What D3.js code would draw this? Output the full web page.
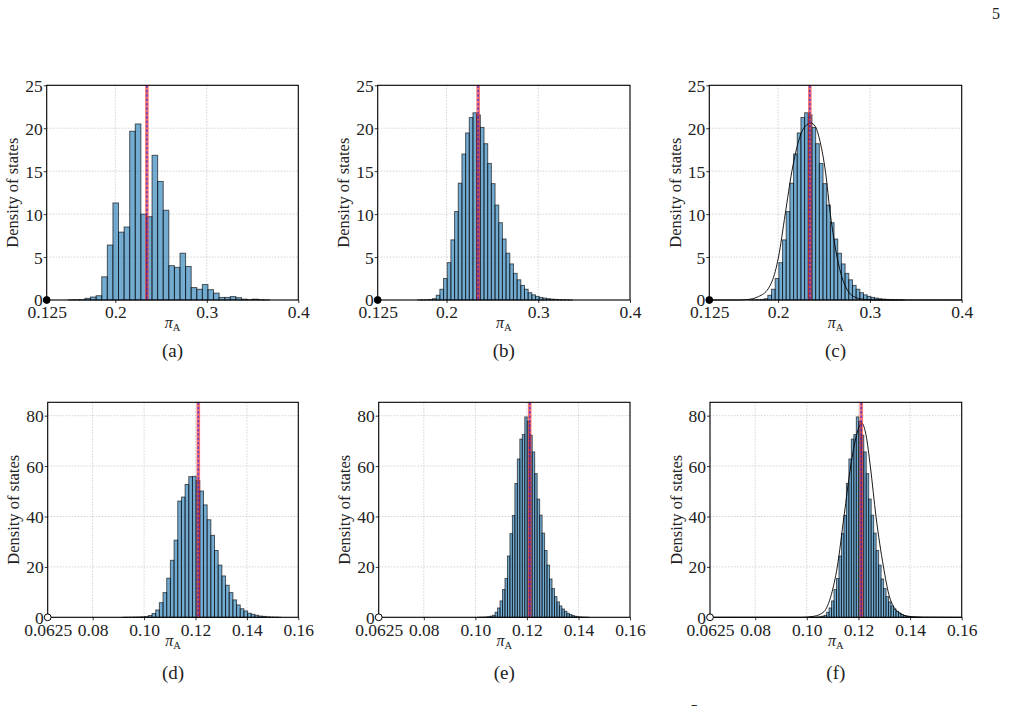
<!DOCTYPE html>
<head>
  <meta charset="utf-8">
  <style>
    body { margin: 0; background: #fff; }
    svg { display: block; font-family: "Liberation Serif", "Times New Roman", serif; }
  </style>
  <script src="https://cdn.jsdelivr.net/npm/d3@7"></script>
</head>
<body>
<svg id=fig width="1014" height="706"></svg>

<script>
// ---- data ----
// histograms: first bin edge, bin width, bar heights (density)
const histA_start = 0.1485, histA_width = 0.00611
const histA = [0.02, 0.03, 0.05, 0.2, 0.35, 0.5, 2.7, 6.4, 11.3, 7.9, 8.5, 19.65, 20.5, 10.0, 9.7,
  16.85, 13.8, 10.45, 4.0, 3.8, 5.45, 3.9, 1.45, 1.25, 1.8, 1.2, 0.8, 0.3, 0.3, 0.4, 0.27, 0.1,
  0.05, 0.1, 0.05, 0.02]

const histB_start = 0.1687, histB_width = 0.00401
const histB = [0.01, 0.02, 0.03, 0.06, 0.15, 0.55, 1.25, 2.5, 4.35, 7.0, 10.3, 13.6, 17.0, 19.45,
  21.25, 21.8, 21.55, 20.1, 18.2, 15.9, 13.55, 11.05, 9.0, 7.1, 5.45, 4.2, 3.1, 2.35, 1.7, 1.25,
  0.85, 0.6, 0.42, 0.3, 0.22, 0.15, 0.1, 0.07, 0.05, 0.03, 0.02, 0.01]

const histD_start = 0.09165, histD_width = 0.00143
const histD = [0.02, 0.03, 0.05, 0.08, 0.12, 0.2, 0.3, 0.7, 1.5, 2.9, 5.8, 9.8, 15.5, 22.6, 30.6,
  46.1, 47.7, 52.7, 55.8, 55.9, 54.2, 50.1, 44.6, 38.7, 32.5, 26.5, 20.7, 16.4, 12.7, 9.8, 6.9,
  4.9, 3.4, 2.5, 1.6, 1.2, 0.8, 0.5, 0.35, 0.2, 0.12, 0.06, 0.03]

const histE_start = 0.10094, histE_width = 0.00096
const histE = [0.02, 0.03, 0.06, 0.12, 0.25, 0.45, 0.8, 2.0, 3.7, 6.5, 11.0, 15.4, 24.3, 33.2, 40.4,
  53.1, 62.8, 70.7, 72.5, 79.5, 77.7, 72.2, 65.6, 57.0, 46.9, 40.5, 33.4, 26.5, 20.7, 15.2, 11.4,
  8.2, 6.1, 4.5, 3.3, 2.4, 1.6, 1.1, 0.7, 0.4, 0.25, 0.15, 0.08, 0.04, 0.02]

// fitted curves in (c) and (f)
const curveC_x = [0.125, 0.155, 0.166, 0.1786, 0.1895, 0.1968, 0.2004, 0.2077, 0.2150, 0.2210, 0.2278,
  0.2358, 0.2405, 0.2460, 0.2515, 0.2569, 0.2642, 0.2697, 0.2752, 0.2824, 0.2933, 0.3079, 0.4]
const curveC_y = [0, 0, 0.05, 0.4, 1.36, 3.3, 5.0, 10.0, 15.0, 18.0, 20.0,
  20.6, 20.2, 18.3, 15.0, 10.0, 5.0, 2.6, 1.2, 0.4, 0.08, 0, 0]

const curveF_x = [0.0625, 0.098, 0.1027, 0.1066, 0.1095, 0.1118, 0.1144, 0.1170, 0.1192, 0.12126,
  0.1230, 0.1246, 0.1268, 0.1297, 0.1318, 0.1340, 0.1364, 0.1386, 0.143, 0.16]
const curveF_y = [0, 0, 0.4, 2.2, 9, 20, 40, 60, 72, 77,
  72, 60, 40, 20, 9, 3.6, 1.5, 0.5, 0.1, 0]

// vertical reference lines
const markTop = 0.2345
const markBottom = 0.1211

// axes
const xTicksTop = [0.125, 0.2, 0.3, 0.4]
const xLabelsTop = ['0.125', '0.2', '0.3', '0.4']
const yTicksTop = [0, 5, 10, 15, 20, 25]
const xTicksBottom = [0.0625, 0.08, 0.10, 0.12, 0.14, 0.16]
const xLabelsBottom = ['0.0625', '0.08', '0.10', '0.12', '0.14', '0.16']
const yTicksBottom = [0, 20, 40, 60, 80]
const captions = ['(a)', '(b)', '(c)', '(d)', '(e)', '(f)']

// ---- layout ----
const svg = d3.select('#fig')
const rows = [
  { y0: 85.3, y1: 300, ymax: 25, dom: [0.125, 0.4], xt: xTicksTop, xl: xLabelsTop, yt: yTicksTop,
    mark: markTop, dot: 'filled', tickBase: 17.5, xlabBase: 328, capBase: 357 },
  { y0: 402.3, y1: 617.3, ymax: 85.3, dom: [0.0625, 0.16], xt: xTicksBottom, xl: xLabelsBottom, yt: yTicksBottom,
    mark: markBottom, dot: 'open', tickBase: 19, xlabBase: 646, capBase: 679 },
]
const cols = [[46.7, 298.3], [377.7, 630], [709.3, 961.7]]
const colsBottom = [[47.7, 298.3], [378.7, 630], [710, 961.7]]

const toBins = (start, w, hs) => hs.map((h, i) => ({ x0: start + i * w, x1: start + (i + 1) * w, h }))
const panels = [
  { row: 0, col: 0, bins: toBins(histA_start, histA_width, histA) },
  { row: 0, col: 1, bins: toBins(histB_start, histB_width, histB) },
  { row: 0, col: 2, bins: toBins(histB_start, histB_width, histB), cx: curveC_x, cy: curveC_y },
  { row: 1, col: 0, bins: toBins(histD_start, histD_width, histD) },
  { row: 1, col: 1, bins: toBins(histE_start, histE_width, histE) },
  { row: 1, col: 2, bins: toBins(histE_start, histE_width, histE), cx: curveF_x, cy: curveF_y },
]

panels.forEach((p, i) => {
  const r = rows[p.row]
  const [xa, xb] = (p.row == 0 ? cols : colsBottom)[p.col]
  const x = d3.scaleLinear().domain(r.dom).range([xa, xb])
  const y = d3.scaleLinear().domain([0, r.ymax]).range([r.y1, r.y0])
  const g = svg.append('g')

  // grid
  g.append('g').selectAll('line').data(r.xt).join('line')
    .attr('x1', d => x(d)).attr('x2', d => x(d)).attr('y1', r.y0).attr('y2', r.y1)
    .attr('stroke', '#c8c8c8').attr('stroke-width', 0.8).attr('stroke-dasharray', '1.5,1.5')
  g.append('g').selectAll('line').data(r.yt).join('line')
    .attr('x1', xa).attr('x2', xb).attr('y1', d => y(d)).attr('y2', d => y(d))
    .attr('stroke', '#c8c8c8').attr('stroke-width', 0.8).attr('stroke-dasharray', '1.5,1.5')

  // histogram
  g.append('g').selectAll('rect').data(p.bins).join('rect')
    .attr('x', d => x(d.x0)).attr('width', d => x(d.x1) - x(d.x0))
    .attr('y', d => y(d.h)).attr('height', d => y(0) - y(d.h))
    .attr('fill', '#1f77b4').attr('fill-opacity', 0.62)
    .attr('stroke', '#000').attr('stroke-opacity', 0.62).attr('stroke-width', 1)

  // fitted curve
  if (p.cx) {
    const pts = p.cx.map((v, k) => [v, p.cy[k]])
    g.append('path').datum(pts)
      .attr('d', d3.line().x(d => x(d[0])).y(d => y(d[1])).curve(d3.curveMonotoneX))
      .attr('fill', 'none').attr('stroke', '#000').attr('stroke-width', 0.9)
  }

  // reference lines
  g.append('line').attr('x1', x(r.mark)).attr('x2', x(r.mark)).attr('y1', r.y0).attr('y2', r.y1)
    .attr('stroke', '#ff1a1a').attr('stroke-opacity', 0.6).attr('stroke-width', 3.6)
  g.append('line').attr('x1', x(r.mark)).attr('x2', x(r.mark)).attr('y1', r.y0).attr('y2', r.y1)
    .attr('stroke', '#2a2ad0').attr('stroke-opacity', 0.7).attr('stroke-width', 1.6)
    .attr('stroke-dasharray', '2.7,1.7')

  // axes
  const ax = g.append('g').attr('transform', `translate(0,${r.y1})`)
    .call(d3.axisBottom(x).tickValues(r.xt).tickFormat((d, k) => r.xl[k]).tickSize(3))
  const ay = g.append('g').attr('transform', `translate(${xa},0)`)
    .call(d3.axisLeft(y).tickValues(r.yt).tickFormat(d3.format('d')).tickSize(3).tickPadding(1))
  for (const a of [ax, ay]) {
    a.attr('font-family', null).attr('font-size', null)
    a.select('.domain').remove()
    a.selectAll('.tick line').attr('stroke', '#000').attr('stroke-width', 0.8)
    a.selectAll('.tick text').attr('fill', '#222').attr('font-size', 17.5)
  }
  ax.selectAll('.tick text').attr('y', r.tickBase).attr('dy', null)
  ay.selectAll('.tick text').attr('dy', '0.34em')

  // frame
  g.append('rect').attr('x', xa).attr('y', r.y0).attr('width', xb - xa).attr('height', r.y1 - r.y0)
    .attr('fill', 'none').attr('stroke', '#000').attr('stroke-width', 1.1)

  // origin marker
  g.append('circle').attr('cx', x(r.dom[0])).attr('cy', y(0)).attr('r', 3.4)
    .attr('fill', r.dot == 'filled' ? '#000' : '#fff').attr('stroke', '#000').attr('stroke-width', 1)

  // labels
  const cxm = (xa + xb) / 2
  const xl = g.append('text').attr('x', cxm).attr('y', r.xlabBase)
    .attr('text-anchor', 'middle').attr('font-size', 16).attr('fill', '#222')
  xl.append('tspan').attr('font-style', 'italic').text('π')
  xl.append('tspan').attr('font-size', 10.5).attr('dy', 3).text('A')

  g.append('text')
    .attr('transform', `translate(${xa - 34},${(r.y0 + r.y1) / 2}) rotate(-90)`)
    .attr('text-anchor', 'middle').attr('dy', '0.35em')
    .attr('font-size', 16.5).attr('fill', '#222').text('Density of states')

  g.append('text').attr('x', cxm).attr('y', r.capBase).attr('text-anchor', 'middle')
    .attr('font-size', 19).attr('fill', '#222').text(captions[i])
})

// page number and a clipped glyph at the bottom edge
svg.append('text').attr('x', 996).attr('y', 19).attr('text-anchor', 'middle')
  .attr('font-size', 16).attr('fill', '#222').text('5')
svg.append('text').attr('x', 694).attr('y', 713).attr('text-anchor', 'middle')
  .attr('font-size', 13).attr('fill', '#222').text('7')
</script>
</body>
